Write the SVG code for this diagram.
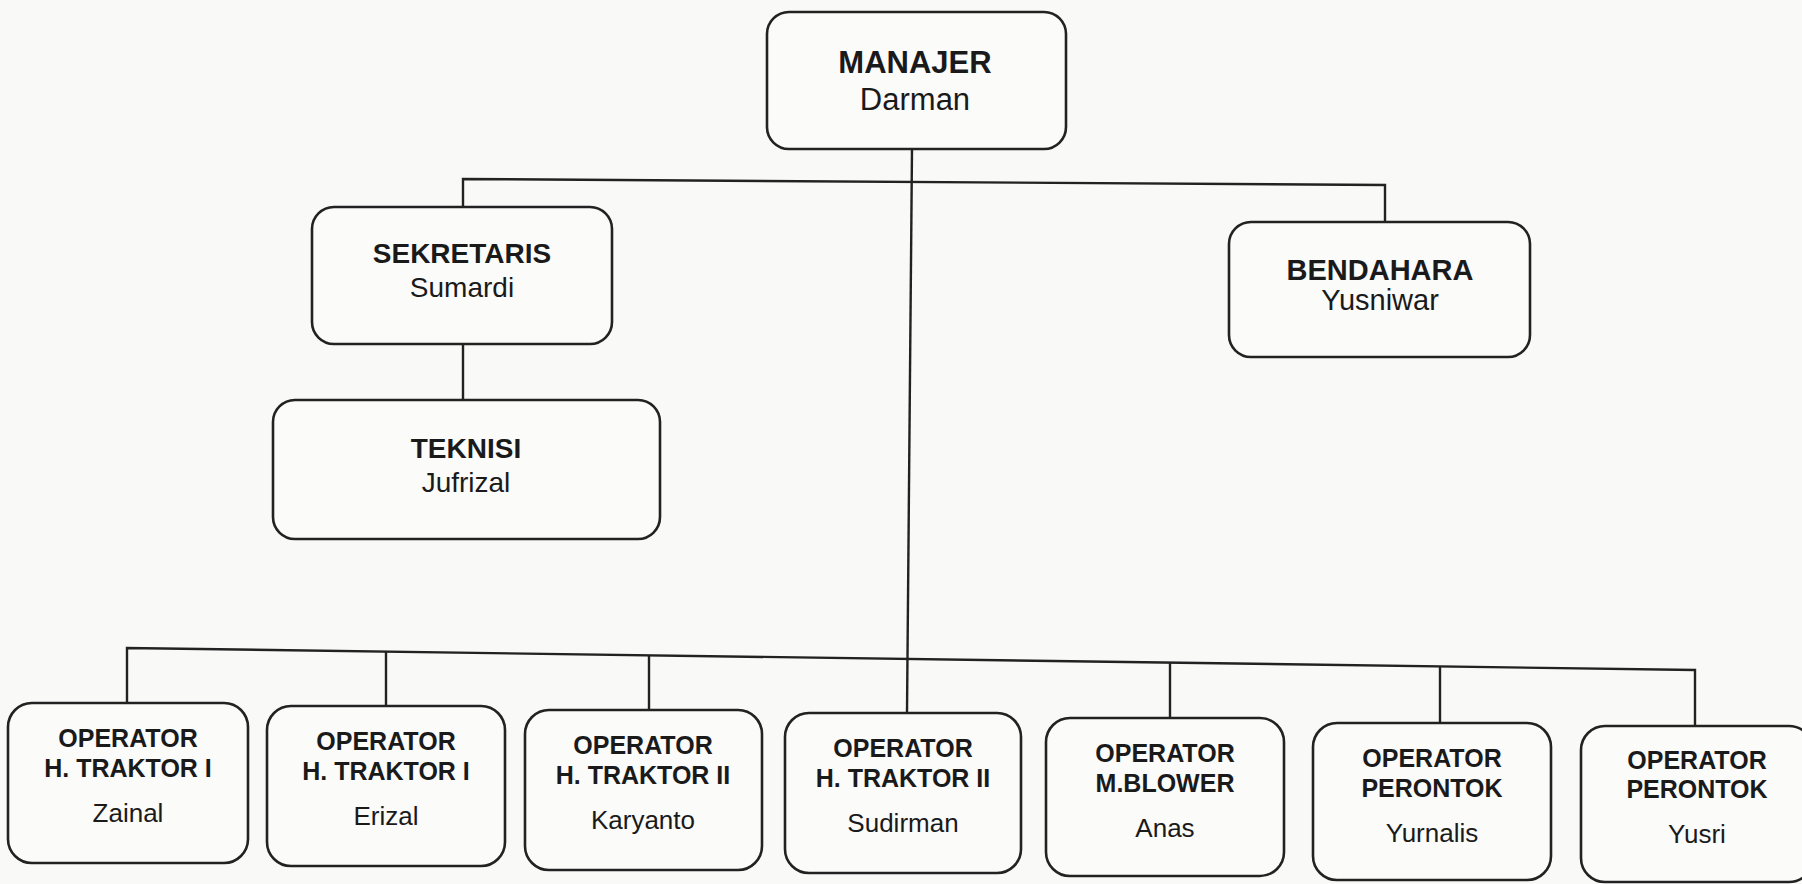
<svg xmlns="http://www.w3.org/2000/svg" width="1802" height="884" viewBox="0 0 1802 884">
<style>
.box{fill:#fbfbfa;stroke:#222;stroke-width:2.6}
.ln{fill:none;stroke:#222;stroke-width:2.4}
.t{font-family:"Liberation Sans",Arial,sans-serif;fill:#1a1a1a;text-anchor:middle}
.b{font-weight:bold}
.big{font-size:31px}
.mid{font-size:28px}
.sm{font-size:25px}
.nm{font-size:26px}
</style>
<rect width="1802" height="884" fill="#f9f9f8"/>
<g id="connectors">
<path class="ln" d="M912 149 L907 713"/>
<path class="ln" d="M463 207 V179 L1385 185 V222"/>
<path class="ln" d="M463 344 V400"/>
<path class="ln" d="M127 703 V648 L1695 670 V726"/>
<path class="ln" d="M386 652 V706"/>
<path class="ln" d="M649 655 V710"/>
<path class="ln" d="M1170 663 V718"/>
<path class="ln" d="M1440 666 V723"/>
</g>
<g id="manajer">
<rect class="box" x="767" y="12" width="299" height="137" rx="22"/>
<text class="t b big" x="915" y="73">MANAJER</text>
<text class="t big" x="915" y="110">Darman</text>
</g>
<g id="sekretaris">
<rect class="box" x="312" y="207" width="300" height="137" rx="22"/>
<text class="t b mid" x="462" y="263">SEKRETARIS</text>
<text class="t mid" x="462" y="297">Sumardi</text>
</g>
<g id="bendahara">
<rect class="box" x="1229" y="222" width="301" height="135" rx="22"/>
<text class="t b mid" x="1380" y="280" style="font-size:29px">BENDAHARA</text>
<text class="t mid" x="1380" y="310" style="font-size:29px">Yusniwar</text>
</g>
<g id="teknisi">
<rect class="box" x="273" y="400" width="387" height="139" rx="22"/>
<text class="t b mid" x="466" y="458">TEKNISI</text>
<text class="t mid" x="466" y="492">Jufrizal</text>
</g>
<g id="op1">
<rect class="box" x="8" y="703" width="240" height="160" rx="24"/>
<text class="t b sm" x="128" y="747">OPERATOR</text>
<text class="t b sm" x="128" y="777">H. TRAKTOR I</text>
<text class="t nm" x="128" y="822">Zainal</text>
</g>
<g id="op2">
<rect class="box" x="267" y="706" width="238" height="160" rx="24"/>
<text class="t b sm" x="386" y="750">OPERATOR</text>
<text class="t b sm" x="386" y="780">H. TRAKTOR I</text>
<text class="t nm" x="386" y="825">Erizal</text>
</g>
<g id="op3">
<rect class="box" x="525" y="710" width="237" height="160" rx="24"/>
<text class="t b sm" x="643" y="754">OPERATOR</text>
<text class="t b sm" x="643" y="784">H. TRAKTOR II</text>
<text class="t nm" x="643" y="829">Karyanto</text>
</g>
<g id="op4">
<rect class="box" x="785" y="713" width="236" height="160" rx="24"/>
<text class="t b sm" x="903" y="757">OPERATOR</text>
<text class="t b sm" x="903" y="787">H. TRAKTOR II</text>
<text class="t nm" x="903" y="832">Sudirman</text>
</g>
<g id="op5">
<rect class="box" x="1046" y="718" width="238" height="158" rx="24"/>
<text class="t b sm" x="1165" y="762">OPERATOR</text>
<text class="t b sm" x="1165" y="792">M.BLOWER</text>
<text class="t nm" x="1165" y="837">Anas</text>
</g>
<g id="op6">
<rect class="box" x="1313" y="723" width="238" height="157" rx="24"/>
<text class="t b sm" x="1432" y="767">OPERATOR</text>
<text class="t b sm" x="1432" y="797">PERONTOK</text>
<text class="t nm" x="1432" y="842">Yurnalis</text>
</g>
<g id="op7">
<rect class="box" x="1581" y="726" width="232" height="156" rx="24"/>
<text class="t b sm" x="1697" y="769">OPERATOR</text>
<text class="t b sm" x="1697" y="798">PERONTOK</text>
<text class="t nm" x="1697" y="843">Yusri</text>
</g>
</svg>
